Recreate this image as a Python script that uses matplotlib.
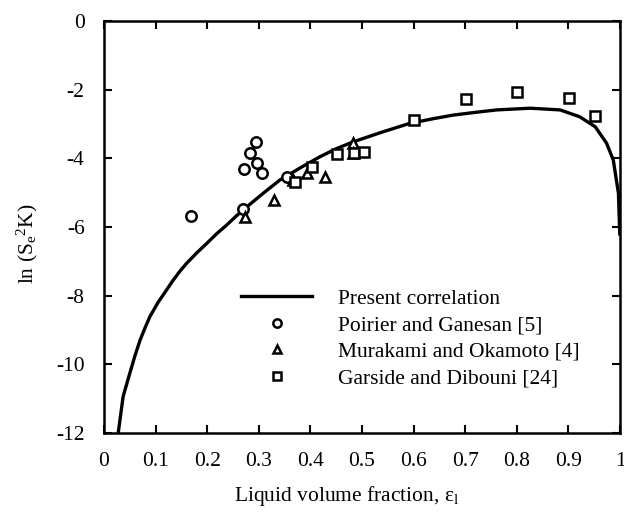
import matplotlib
matplotlib.use("Agg")
import matplotlib.pyplot as plt
import numpy as np

plt.rcParams['font.family'] = ['Liberation Serif', 'DejaVu Serif']
plt.rcParams['mathtext.fontset'] = 'custom'
plt.rcParams['mathtext.rm'] = 'Liberation Serif'
plt.rcParams['mathtext.it'] = 'Liberation Serif:italic'
plt.rcParams['axes.unicode_minus'] = False

# Present correlation
corr_x = [0.028, 0.037, 0.050, 0.060, 0.070, 0.080, 0.089, 0.105, 0.121, 0.134,
          0.147, 0.160, 0.180, 0.199, 0.218, 0.238, 0.257, 0.277, 0.310, 0.341,
          0.380, 0.419, 0.450, 0.483, 0.540, 0.593, 0.640, 0.677, 0.720, 0.761,
          0.826, 0.884, 0.922, 0.952, 0.974, 0.987, 0.997, 0.9995]
corr_y = [-11.95, -10.94, -10.26, -9.75, -9.29, -8.92, -8.61, -8.19, -7.84, -7.55,
          -7.29, -7.06, -6.75, -6.48, -6.20, -5.94, -5.67, -5.41, -5.00, -4.63,
          -4.28, -3.95, -3.72, -3.52, -3.23, -2.98, -2.84, -2.74, -2.66, -2.59,
          -2.54, -2.59, -2.79, -3.08, -3.56, -4.05, -5.02, -6.2]

# Poirier and Ganesan [5]
pg_x = [0.168, 0.270, 0.272, 0.282, 0.294, 0.297, 0.306, 0.355]
pg_y = [-5.68, -5.49, -4.32, -3.85, -3.51, -4.13, -4.44, -4.53]

# Murakami and Okamoto [4]
mo_x = [0.274, 0.330, 0.367, 0.393, 0.429, 0.482, 0.483]
mo_y = [-5.72, -5.21, -4.63, -4.44, -4.55, -3.56, -3.85]

# Garside and Dibouni [24]
gd_x = [0.370, 0.403, 0.451, 0.485, 0.503, 0.600, 0.702, 0.800, 0.901, 0.952]
gd_y = [-4.70, -4.26, -3.88, -3.85, -3.83, -2.87, -2.28, -2.08, -2.23, -2.77]

x_ticks = [0, 0.1, 0.2, 0.3, 0.4, 0.5, 0.6, 0.7, 0.8, 0.9, 1]
x_tick_labels = ['0', '0.1', '0.2', '0.3', '0.4', '0.5', '0.6', '0.7', '0.8', '0.9', '1']
y_ticks = [0, -2, -4, -6, -8, -10, -12]

fig = plt.figure(figsize=(6.24, 5.15), dpi=100)
ax = fig.add_axes([104 / 624, 1 - 433 / 515, 516 / 624, 412 / 515])

ax.plot(corr_x, corr_y, color='black', linewidth=2.4, label='Present correlation', zorder=3)
mk = dict(linestyle='none', markerfacecolor='white', markeredgecolor='black',
          markeredgewidth=1.8, markersize=7.5, zorder=4)
ax.plot(pg_x, pg_y, marker='o', label='Poirier and Ganesan [5]', **mk)
ax.plot(mo_x, mo_y, marker='^', label='Murakami and Okamoto [4]', **mk)
ax.plot(gd_x, gd_y, marker='s', label='Garside and Dibouni [24]', **mk)

ax.set_xlim(0, 1)
ax.set_ylim(-12, 0)
ax.set_xticks(x_ticks)
ax.set_xticklabels(x_tick_labels)
ax.set_yticks(y_ticks)
ax.tick_params(direction='in', top=True, right=True, length=6, width=1.5,
               labelsize=15.5, pad=14)
for s in ax.spines.values():
    s.set_linewidth(1.8)

ax.set_ylabel(r'ln (S$_\mathrm{e}$$^\mathrm{2}$K)', fontsize=15.5)
ax.yaxis.set_label_coords(-0.125, 0.46)
ax.set_xlabel(r'Liquid volume fraction, $\mathrm{ε}_\mathrm{l}$', fontsize=15.5)
ax.xaxis.set_label_coords(0.47, -0.125)

ax.legend(loc='upper left', bbox_to_anchor=(0.245, 0.376), frameon=False, fontsize=15.5,
          handlelength=3.3, handletextpad=1.2, labelspacing=0.3, markerscale=0.8,
          borderpad=0)

fig.savefig('out.png', dpi=100)
